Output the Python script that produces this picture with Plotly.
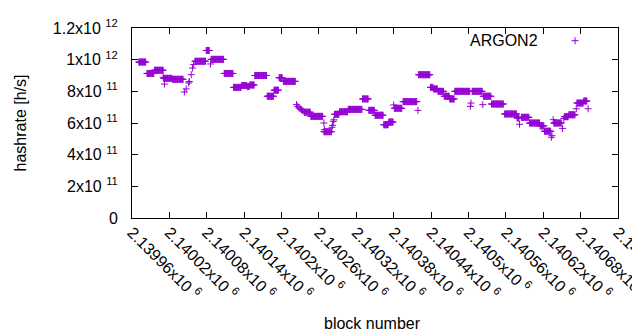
import numpy as np
import plotly.graph_objects as go

# ---- data (block number, hashrate in h/s) ----
# runs of consecutive blocks showing the same hashrate
run_start = [2139971, 2139984, 2139996, 2140011, 2140025, 2140061, 2140079, 2140087,
             2140108, 2140123, 2140136, 2140145, 2140149, 2140157, 2140177, 2140188,
             2140196, 2140203, 2140237, 2140247, 2140268, 2140285, 2140293, 2140307,
             2140330, 2140340, 2140350, 2140364, 2140372, 2140381, 2140395, 2140420,
             2140439, 2140444, 2140451, 2140461, 2140470, 2140478, 2140506, 2140524,
             2140537, 2140558, 2140578, 2140585, 2140598, 2140615, 2140622, 2140637,
             2140654, 2140661, 2140674, 2140685]
run_end = [2139982, 2139995, 2140010, 2140024, 2140042, 2140078, 2140084, 2140107,
           2140122, 2140135, 2140144, 2140148, 2140156, 2140176, 2140187, 2140195,
           2140201, 2140222, 2140246, 2140266, 2140280, 2140292, 2140306, 2140329,
           2140339, 2140349, 2140363, 2140371, 2140379, 2140393, 2140417, 2140438,
           2140443, 2140450, 2140460, 2140469, 2140477, 2140502, 2140522, 2140536,
           2140556, 2140577, 2140581, 2140597, 2140614, 2140621, 2140632, 2140649,
           2140660, 2140671, 2140684, 2140690]
run_hashrate = [0.985e12, 0.913e12, 0.933e12, 0.882e12, 0.876e12, 0.990e12, 1.058e12, 1.002e12,
                0.913e12, 0.825e12, 0.837e12, 0.830e12, 0.840e12, 0.900e12, 0.769e12, 0.807e12,
                0.886e12, 0.863e12, 0.668e12, 0.642e12, 0.545e12, 0.655e12, 0.671e12, 0.686e12,
                0.752e12, 0.680e12, 0.649e12, 0.589e12, 0.606e12, 0.693e12, 0.735e12, 0.905e12,
                0.825e12, 0.815e12, 0.800e12, 0.769e12, 0.752e12, 0.800e12, 0.800e12, 0.769e12,
                0.720e12, 0.657e12, 0.632e12, 0.636e12, 0.600e12, 0.582e12, 0.548e12, 0.600e12,
                0.640e12, 0.652e12, 0.726e12, 0.739e12]

# single blocks off the runs
point_block = [2140010, 2140012, 2140044, 2140047, 2140051, 2140052, 2140055, 2140057,
               2140059, 2140086, 2140224, 2140226, 2140228, 2140230, 2140232, 2140234,
               2140236, 2140268, 2140269, 2140281, 2140282, 2140283, 2140284, 2140380,
               2140419, 2140503, 2140504, 2140523, 2140582, 2140633, 2140634, 2140636,
               2140651, 2140653, 2140673, 2140692]
point_hashrate = [0.889e12, 0.846e12, 0.796e12, 0.815e12, 0.853e12, 0.862e12, 0.905e12, 0.947e12,
                  0.970e12, 0.973e12, 0.716e12, 0.705e12, 0.695e12, 0.690e12, 0.684e12, 0.678e12,
                  0.672e12, 0.600e12, 0.558e12, 0.573e12, 0.585e12, 0.610e12, 0.620e12, 0.714e12,
                  0.680e12, 0.705e12, 0.726e12, 0.716e12, 0.592e12, 0.510e12, 0.520e12, 0.621e12,
                  0.566e12, 0.628e12, 0.690e12, 0.690e12]

x_tick_vals = [2139960, 2140020, 2140080, 2140140, 2140200, 2140260, 2140320,
               2140380, 2140440, 2140500, 2140560, 2140620, 2140680, 2140740]
x_tick_text = ["2.13996x10 <sup>6</sup>", "2.14002x10 <sup>6</sup>", "2.14008x10 <sup>6</sup>",
               "2.14014x10 <sup>6</sup>", "2.1402x10 <sup>6</sup>", "2.14026x10 <sup>6</sup>",
               "2.14032x10 <sup>6</sup>", "2.14038x10 <sup>6</sup>", "2.14044x10 <sup>6</sup>",
               "2.1405x10 <sup>6</sup>", "2.14056x10 <sup>6</sup>", "2.14062x10 <sup>6</sup>",
               "2.14068x10 <sup>6</sup>", "2.14074x10 <sup>6</sup>"]
y_tick_vals = [0, 2e11, 4e11, 6e11, 8e11, 1e12, 1.2e12]
y_tick_text = ["0", "2x10 <sup>11</sup>", "4x10 <sup>11</sup>", "6x10 <sup>11</sup>",
               "8x10 <sup>11</sup>", "1x10 <sup>12</sup>", "1.2x10 <sup>12</sup>"]

series_name = "ARGON2"
x_title = "block number"
y_title = "hashrate [h/s]"
color = "#9400d3"

# ---- expand runs to one point per block ----
xs, ys = [], []
for s, e, v in zip(run_start, run_end, run_hashrate):
    blocks = list(range(s, e + 1))
    xs.extend(blocks)
    ys.extend([v] * len(blocks))
xs.extend(point_block)
ys.extend(point_hashrate)

fig = go.Figure()
fig.add_trace(go.Scatter(
    x=xs, y=ys, mode="markers", name=series_name, showlegend=False,
    marker=dict(symbol="cross-thin", size=5, color=color,
                line=dict(color=color, width=1)),
))

font = dict(family="Liberation Sans, Arial, sans-serif", size=16, color="black")
L, R, T, B = 124, 30, 20, 120
W, H = 640, 330
pw, ph = W - L - R, H - T - B

fig.update_layout(
    width=W, height=H, margin=dict(l=L, r=R, t=T, b=B, autoexpand=False),
    paper_bgcolor="white", plot_bgcolor="white", font=font,
    xaxis=dict(range=[2139960, 2140740], tickvals=x_tick_vals, ticktext=x_tick_text,
               tickangle=45, ticks="inside", ticklen=6, tickcolor="black",
               showline=True, linecolor="black", linewidth=1, mirror="ticks",
               showgrid=False, zeroline=False, automargin=False, ticklabelstandoff=-2,
               ticklabeloverflow="allow"),
    yaxis=dict(range=[0, 1.2e12], tickvals=y_tick_vals, ticktext=y_tick_text,
               ticks="inside", ticklen=6, tickcolor="black",
               showline=True, linecolor="black", linewidth=1, mirror="ticks",
               showgrid=False, zeroline=False, automargin=False, ticklabelstandoff=10,
               ticklabeloverflow="allow",
               title=dict(text=y_title, standoff=22, font=font)),
)

# x axis title placed below the rotated tick labels
fig.add_annotation(text=x_title, x=(364 - L) / pw, y=(210 - 315.5) / ph,
                   xref="paper", yref="paper", xanchor="center", yanchor="middle",
                   showarrow=False, font=font)

# key (gnuplot style: text then sample)
kx, ky = (567 - L) / pw, (210 - 32.7) / ph
dx, dy = 3.5 / pw, 3.5 / ph
fig.add_annotation(text=series_name, x=(532 - L) / pw, y=ky, xref="paper", yref="paper",
                   xanchor="right", yanchor="middle", showarrow=False, font=font)
fig.add_shape(type="line", xref="paper", yref="paper", x0=kx - dx, x1=kx + dx, y0=ky, y1=ky,
              line=dict(color=color, width=1))
fig.add_shape(type="line", xref="paper", yref="paper", x0=kx, x1=kx, y0=ky - dy, y1=ky + dy,
              line=dict(color=color, width=1))

fig.write_html("out.html")
